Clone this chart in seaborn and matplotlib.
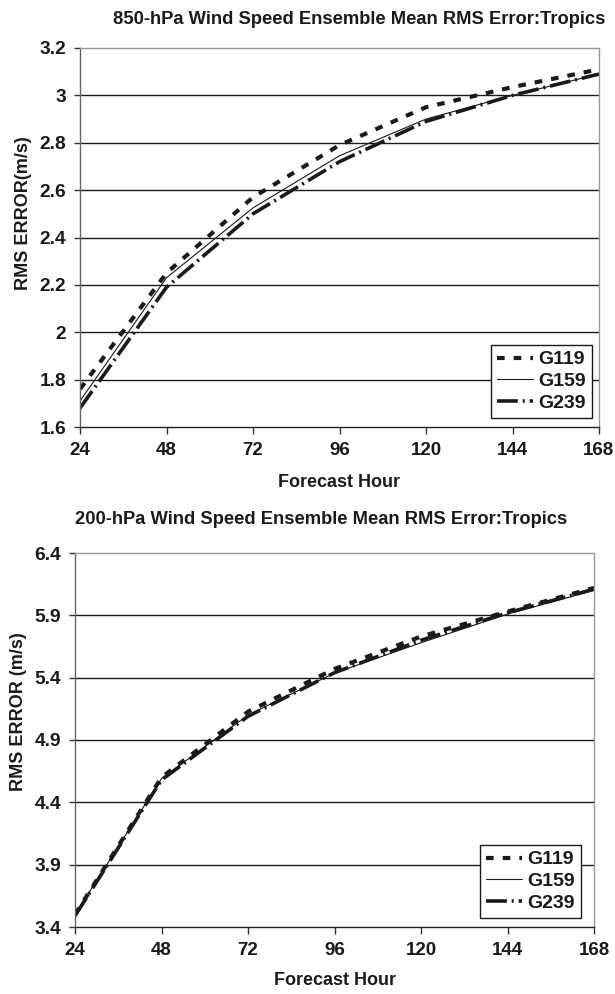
import matplotlib
matplotlib.use("Agg")
import matplotlib.pyplot as plt
import seaborn as sns
import numpy as np
import pandas as pd
from matplotlib.lines import Line2D

# ---------------- data ----------------
hours = [24, 48, 72, 96, 120, 144, 168]
series_names = ["G119", "G159", "G239"]

g119_850 = [1.76, 2.25, 2.57, 2.79, 2.95, 3.035, 3.11]
g159_850 = [1.71, 2.23, 2.525, 2.745, 2.90, 3.00, 3.09]
g239_850 = [1.68, 2.19, 2.50, 2.72, 2.89, 3.00, 3.09]

g119_200 = [3.50, 4.60, 5.127, 5.47, 5.73, 5.93, 6.12]
g159_200 = [3.50, 4.59, 5.10, 5.437, 5.68, 5.91, 6.10]
g239_200 = [3.49, 4.58, 5.09, 5.44, 5.70, 5.92, 6.11]

title_top = "850-hPa Wind Speed Ensemble Mean RMS Error:Tropics"
title_bot = "200-hPa Wind Speed Ensemble Mean RMS Error:Tropics"
ylabel_top = "RMS ERROR(m/s)"
ylabel_bot = "RMS ERROR (m/s)"
xlabel = "Forecast Hour"

yticks_top = [1.6, 1.8, 2.0, 2.2, 2.4, 2.6, 2.8, 3.0, 3.2]
yticklabels_top = ["1.6", "1.8", "2", "2.2", "2.4", "2.6", "2.8", "3", "3.2"]
yticks_bot = [3.4, 3.9, 4.4, 4.9, 5.4, 5.9, 6.4]
yticklabels_bot = ["3.4", "3.9", "4.4", "4.9", "5.4", "5.9", "6.4"]

# ---------------- style ----------------
sns.set_theme(style="white")
plt.rcParams["font.family"] = ["Liberation Sans", "DejaVu Sans"]
plt.rcParams["font.weight"] = "bold"
plt.rcParams["lines.scale_dashes"] = False

line_color = "#1a1a1a"
styles = {
    "G119": dict(lw=3.0, ls=(0, (5.5, 6.5))),
    "G159": dict(lw=0.8, ls="-"),
    "G239": dict(lw=2.6, ls=(0, (15, 3.5, 1.5, 3.5))),
}

fig = plt.figure(figsize=(6.15, 9.94), dpi=100)
W, H = 615, 994


def add_axes_px(left, right, top, bottom):
    return fig.add_axes([left / W, 1 - bottom / H, (right - left) / W, (bottom - top) / H])


ax1 = add_axes_px(80, 599, 48, 427)
ax2 = add_axes_px(75, 594, 553, 927)

panels = [
    (ax1, [g119_850, g159_850, g239_850], yticks_top, yticklabels_top, ylabel_top,
     (1 - 7 / 519, 9 / 379), 0.565, -0.125),
    (ax2, [g119_200, g159_200, g239_200], yticks_bot, yticklabels_bot, ylabel_bot,
     (1 - 13 / 519, 9 / 374), 0.575, -0.12),
]

for ax, vals, yt, ytl, ylab, leg_anchor, ylab_y, xlab_y in panels:
    for name, v in zip(series_names, vals):
        d = pd.DataFrame({"hour": hours, "rms": v})
        st = styles[name]
        sns.lineplot(data=d, x="hour", y="rms", ax=ax, color=line_color,
                     linewidth=st["lw"], linestyle=st["ls"], label=name,
                     dash_capstyle="butt")
    ax.set_xlim(24, 168)
    ax.set_ylim(yt[0], yt[-1])
    ax.set_xticks(hours)
    ax.set_xticklabels([str(h) for h in hours], fontsize=13.5, fontweight="bold", color="#1a1a1a")
    ax.set_yticks(yt)
    ax.set_yticklabels(ytl, fontsize=13.8, fontweight="bold", color="#1a1a1a")
    ax.tick_params(axis="x", direction="out", length=5, width=1, color="#333333", pad=6, bottom=True)
    ax.tick_params(axis="y", direction="out", length=4, width=1, color="#333333", pad=6, left=True)
    for y in yt[1:-1]:
        ax.axhline(y, color="#1a1a1a", lw=1.0, zorder=0.5)
    ax.spines["left"].set_color("#666666")
    ax.spines["bottom"].set_color("#222222")
    ax.spines["top"].set_color("#999999")
    ax.spines["right"].set_color("#999999")
    for s in ax.spines.values():
        s.set_linewidth(1.0)
    ax.set_xlabel(xlabel, fontsize=13, fontweight="bold", color="#1a1a1a")
    ax.set_ylabel(ylab, fontsize=13, fontweight="bold", color="#1a1a1a")
    ax.xaxis.set_label_coords(0.5, xlab_y)
    ax.yaxis.set_label_coords(-0.092, ylab_y)

    handles = []
    for name in series_names:
        st = styles[name]
        handles.append(Line2D([], [], color=line_color, lw=st["lw"], ls=st["ls"],
                              dash_capstyle="butt"))
    leg = ax.legend(handles, series_names, loc="lower right", bbox_to_anchor=leg_anchor,
                    borderaxespad=0, frameon=True, fancybox=False, edgecolor="#1a1a1a",
                    framealpha=1, prop={"size": 14, "weight": "bold"}, handlelength=1.85,
                    handletextpad=0.3, labelspacing=0.22, borderpad=0.3)
    leg.get_frame().set_linewidth(1.0)
    for t in leg.get_texts():
        t.set_color("#1a1a1a")

fig.text(359 / W, 1 - 19 / H, title_top, ha="center", va="center", fontsize=13.2,
         fontweight="bold", color="#1a1a1a")
fig.text(321 / W, 1 - 519 / H, title_bot, ha="center", va="center", fontsize=13.2,
         fontweight="bold", color="#1a1a1a")

fig.savefig("out.png", dpi=100, facecolor="white")
